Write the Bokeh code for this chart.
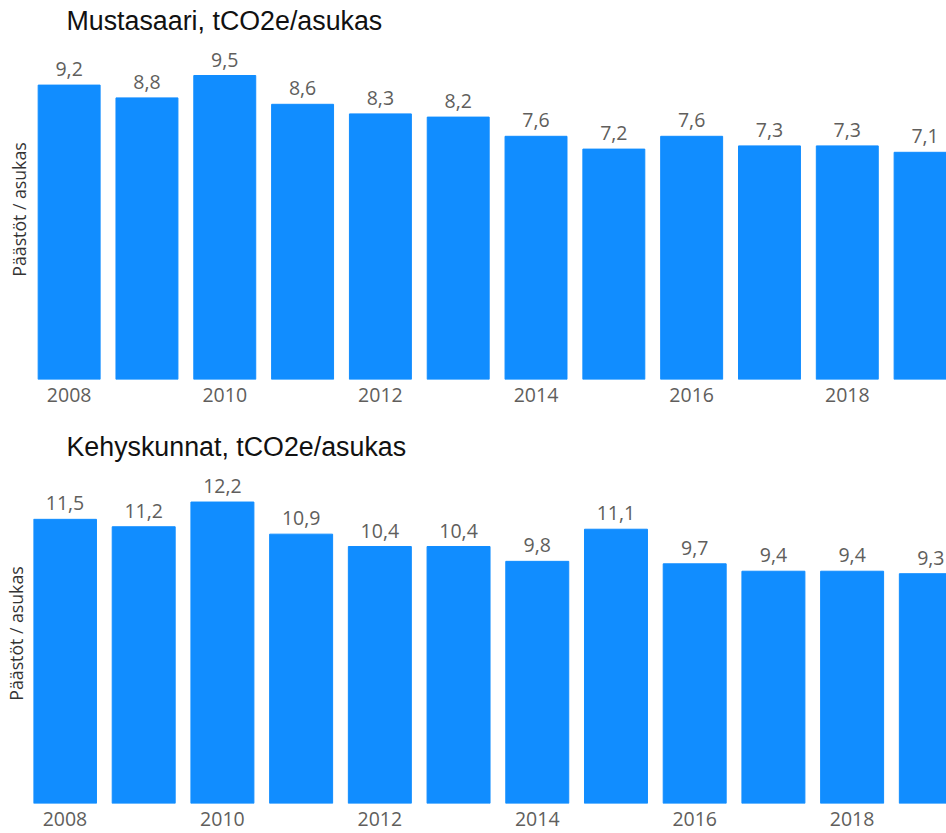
from bokeh.plotting import figure
from bokeh.layouts import column
from bokeh.models import ColumnDataSource, LabelSet, FixedTicker, Range1d
from bokeh.core.properties import value
from bokeh.embed import file_html
from bokeh.resources import INLINE

years = [2008, 2009, 2010, 2011, 2012, 2013, 2014, 2015, 2016, 2017, 2018, 2019]
mustasaari = [9.2, 8.8, 9.5, 8.6, 8.3, 8.2, 7.6, 7.2, 7.6, 7.3, 7.3, 7.1]
kehyskunnat = [11.5, 11.2, 12.2, 10.9, 10.4, 10.4, 9.8, 11.1, 9.7, 9.4, 9.4, 9.3]
tick_years = [2008, 2010, 2012, 2014, 2016, 2018]
titles = ["Mustasaari, tCO2e/asukas", "Kehyskunnat, tCO2e/asukas"]
ylabel = "Päästöt / asukas"

BAR = "#118DFF"
LBL = "#605E5C"


def make_panel(vals, title, height, x0, x1, y1, border_left, border_top,
               border_bottom, title_offset, title_standoff, ylabel_standoff,
               bar_w):
    src = ColumnDataSource(dict(
        x=years, top=vals,
        txt=[f"{v:.1f}".replace(".", ",") for v in vals]))
    p = figure(width=946, height=height, output_backend="svg",
               toolbar_location=None, tools="",
               x_range=Range1d(x0, x1), y_range=Range1d(0, y1),
               min_border_left=border_left, min_border_right=0,
               min_border_top=border_top, min_border_bottom=border_bottom)
    p.title.text = title
    p.title.text_font = "Liberation Sans"
    p.title.text_font_size = "26.8px"
    p.title.text_font_style = "normal"
    p.title.text_color = "#111111"
    p.title.align = "left"
    p.title.offset = title_offset
    p.title.standoff = title_standoff
    p.vbar(x="x", top="top", width=bar_w, source=src,
           fill_color=BAR, line_color=BAR)
    labels = LabelSet(x="x", y="top", text="txt", source=src,
                      text_align="center", text_baseline="alphabetic",
                      y_offset=9, text_font=value("Open Sans"),
                      text_font_size=value("19.5px"), text_color=LBL)
    p.add_layout(labels)
    p.xgrid.visible = False
    p.ygrid.visible = False
    p.outline_line_color = None
    p.background_fill_color = "white"
    p.border_fill_color = "white"

    xa = p.xaxis[0]
    xa.ticker = FixedTicker(ticks=tick_years)
    xa.axis_line_color = None
    xa.major_tick_line_color = None
    xa.minor_tick_line_color = None
    xa.major_tick_out = 0
    xa.major_tick_in = 0
    xa.major_label_standoff = 8
    xa.major_label_text_font = "Open Sans"
    xa.major_label_text_font_size = "19.5px"
    xa.major_label_text_color = LBL

    ya = p.yaxis[0]
    ya.ticker = FixedTicker(ticks=[])
    ya.axis_line_color = None
    ya.major_tick_line_color = None
    ya.minor_tick_line_color = None
    ya.major_tick_out = 0
    ya.major_tick_in = 0
    ya.axis_label = ylabel
    ya.axis_label_standoff = ylabel_standoff
    ya.axis_label_text_font = "Open Sans"
    ya.axis_label_text_font_size = "17.7px"
    ya.axis_label_text_font_style = "normal"
    ya.axis_label_text_color = "#333333"
    return p


p1 = make_panel(mustasaari, titles[0], 428, 2007.542, 2019.275,
                340 / 32.0, 32, 39, 49, 33, 7, 3, 0.796)
p2 = make_panel(kehyskunnat, titles[1], 405, 2007.600, 2019.199,
                344 / 25.0, 32, 31, 30, 33, 3, 6, 0.8)

layout = column(p1, p2, spacing=0)
open("out.html", "w").write(file_html(layout, INLINE))
